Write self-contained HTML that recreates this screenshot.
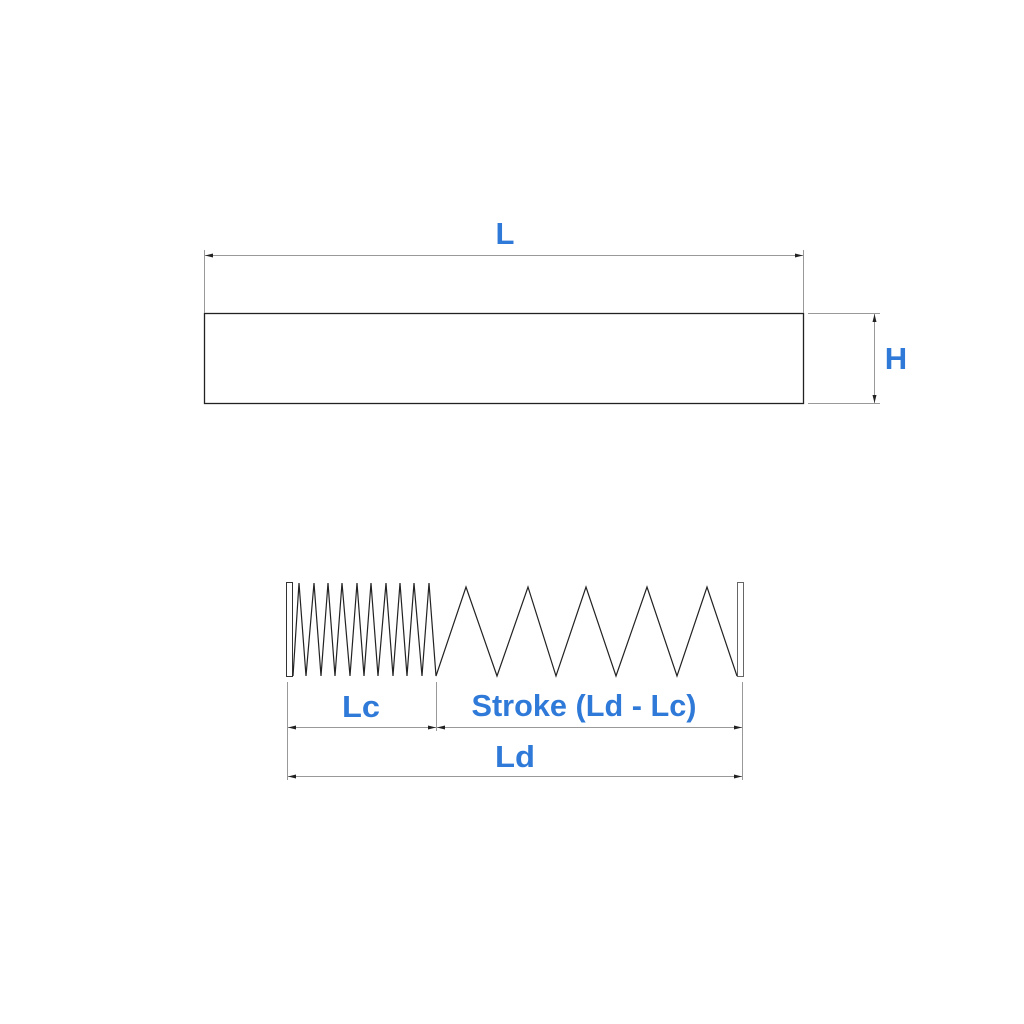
<!DOCTYPE html>
<html><head><meta charset="utf-8"><style>
html,body{margin:0;padding:0;background:#fff;}
svg{display:block}
text{font-family:"Liberation Sans",sans-serif;font-weight:bold;fill:#2f7ad8;}
</style></head><body>
<svg width="1024" height="1024" viewBox="0 0 1024 1024" xmlns="http://www.w3.org/2000/svg">
<defs>
<marker id="a" markerWidth="8" markerHeight="4" refX="8" refY="2" orient="auto-start-reverse" markerUnits="userSpaceOnUse"><path d="M0,0 L8,2 L0,4z" fill="#222"/></marker>
</defs>
<rect x="204.5" y="313.5" width="599" height="90" fill="none" stroke="#222" stroke-width="1.3"/>
<g stroke="#999" stroke-width="1">
<line x1="204.5" y1="250" x2="204.5" y2="313"/>
<line x1="803.5" y1="250" x2="803.5" y2="313"/>
<line x1="808" y1="313.5" x2="880" y2="313.5"/>
<line x1="808" y1="403.5" x2="880" y2="403.5"/>
<line x1="205" y1="255.5" x2="803" y2="255.5" marker-start="url(#a)" marker-end="url(#a)"/>
<line x1="874.5" y1="314" x2="874.5" y2="403" marker-start="url(#a)" marker-end="url(#a)"/>
</g>
<text x="505" y="244" font-size="31" text-anchor="middle">L</text>
<text x="896" y="369" font-size="31" text-anchor="middle">H</text>
<rect x="286.5" y="582.5" width="6" height="94" fill="none" stroke="#333" stroke-width="1"/>
<rect x="737.5" y="582.5" width="6" height="94" fill="none" stroke="#666" stroke-width="1"/>
<polyline fill="none" stroke="#222" stroke-width="1.2" points="293,676 299,583 306,676 314,583 321,676 328,583 335,676 342,583 350,676 357,583 364,676 371,583 378,676 386,583 393,676 400,583 407,676 414,583 422,676 429,583 436,676 466,587 497,676 528,587 556,676 586,587 616,676 647,587 677,676 707,587 737,676"/>
<g stroke="#999" stroke-width="1">
<line x1="287.5" y1="682" x2="287.5" y2="780"/>
<line x1="436.5" y1="682" x2="436.5" y2="731"/>
<line x1="742.5" y1="682" x2="742.5" y2="780"/>
<line x1="288" y1="727.5" x2="436" y2="727.5" marker-start="url(#a)" marker-end="url(#a)"/>
<line x1="437" y1="727.5" x2="742" y2="727.5" marker-start="url(#a)" marker-end="url(#a)"/>
<line x1="288" y1="776.5" x2="742" y2="776.5" marker-start="url(#a)" marker-end="url(#a)"/>
</g>
<text x="361" y="717" font-size="31" text-anchor="middle" textLength="38" lengthAdjust="spacingAndGlyphs">Lc</text>
<text x="584" y="716" font-size="31" text-anchor="middle" textLength="225" lengthAdjust="spacingAndGlyphs">Stroke (Ld - Lc)</text>
<text x="515" y="767" font-size="31" text-anchor="middle" textLength="40" lengthAdjust="spacingAndGlyphs">Ld</text>
</svg>
</body></html>
